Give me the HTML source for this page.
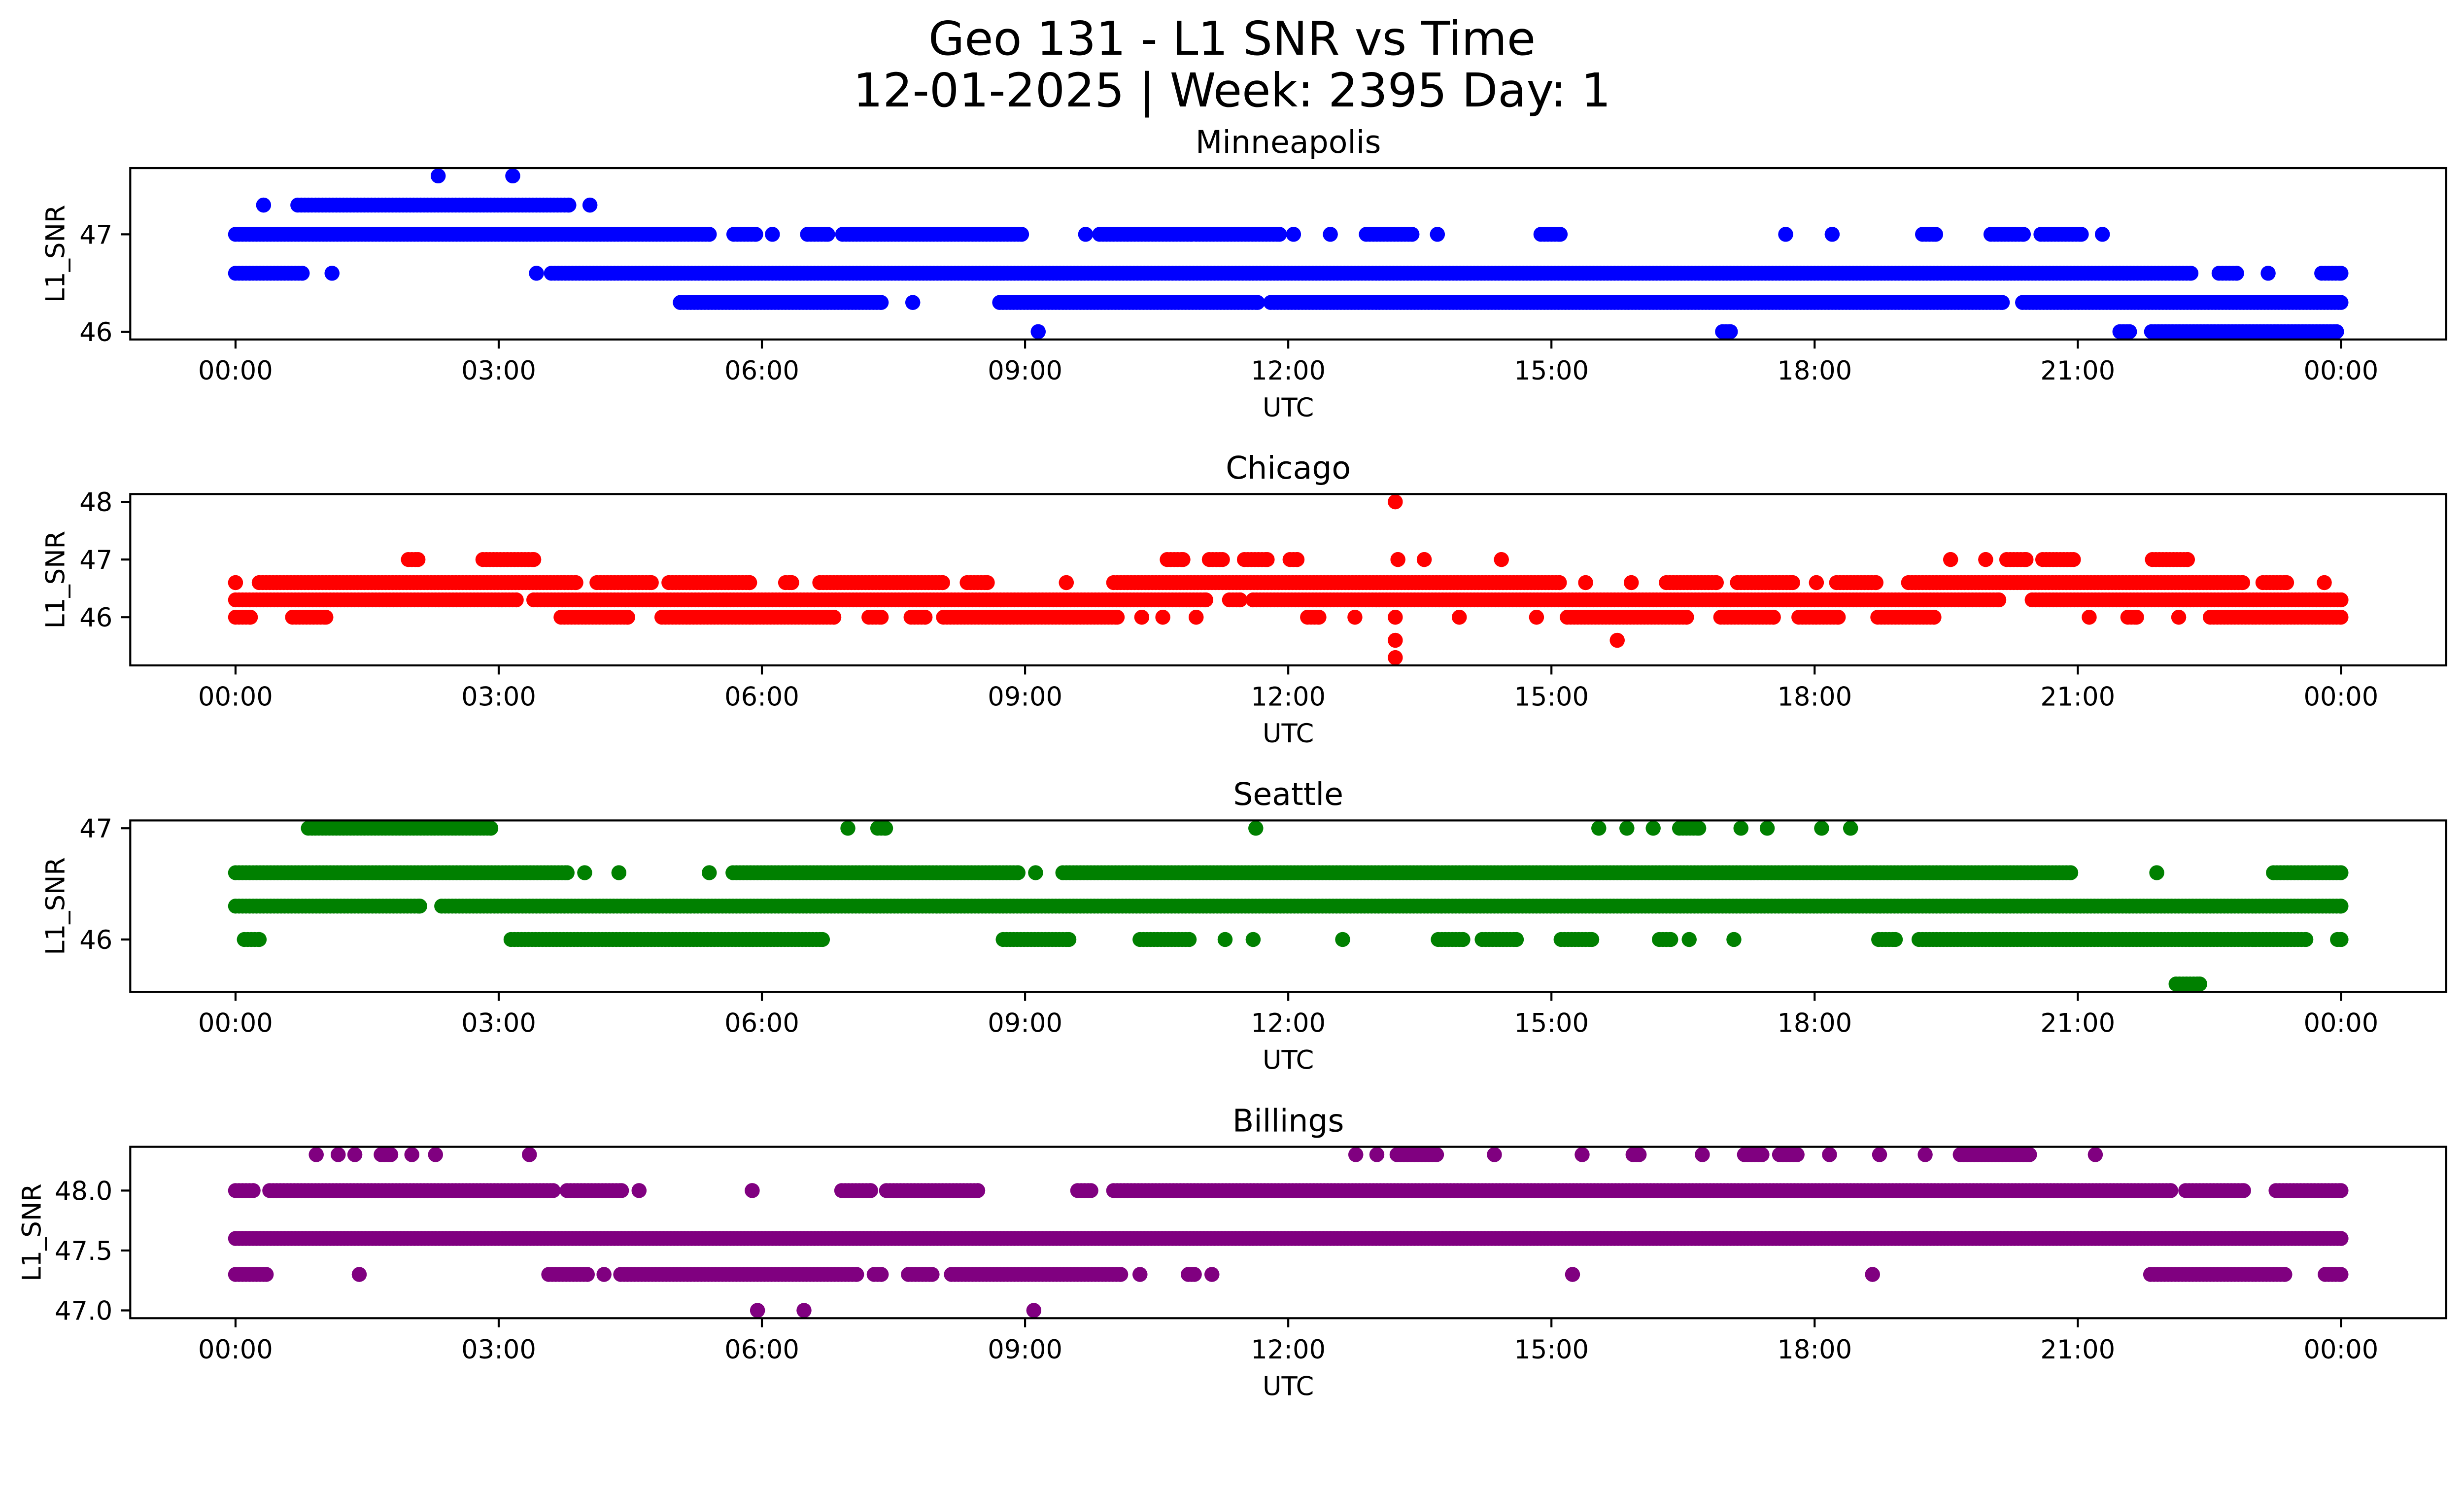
<!DOCTYPE html>
<html><head><meta charset="utf-8"><style>
html,body{margin:0;padding:0;background:#fff;overflow:hidden}
svg{display:block;font-family:"DejaVu Sans","Liberation Sans",sans-serif;width:100vw;height:calc(100vw * 3033 / 5278)}
</style></head><body>
<svg id="fig" viewBox="0 0 5278 3033" preserveAspectRatio="xMinYMin meet" xmlns="http://www.w3.org/2000/svg">
<rect width="5278" height="3033" fill="#fff"/>
<text x="2639" y="117" font-size="100" text-anchor="middle">Geo 131 - L1 SNR vs Time</text>
<text x="2639" y="228" font-size="100" text-anchor="middle">12-01-2025 | Week: 2395 Day: 1</text>
</svg>
<script>
// x tick data
const xTickHours = [0,3,6,9,12,15,18,21,24];
const xTickLabels = ["00:00","03:00","06:00","09:00","12:00","15:00","18:00","21:00","00:00"];
const panelNames = ["Minneapolis","Chicago","Seattle","Billings"];
const panelColors = ["#0000ff","#ff0000","#008000","#800080"];
// y tick values/labels per panel
const minneapolisTicks = [46,47];
const minneapolisTickLabels = ["46","47"];
const chicagoTicks = [46,47,48];
const chicagoTickLabels = ["46","47","48"];
const seattleTicks = [46,47];
const seattleTickLabels = ["46","47"];
const billingsTicks = [47.0,47.5,48.0];
const billingsTickLabels = ["47.0","47.5","48.0"];
// data: per SNR level, list of [startHour, endHour] observed ranges
const minneapolisLevels = [47.6,47.3,47.0,46.6,46.3,46.0];
const minneapolisRanges = [
 [[2.31,2.31],[3.16,3.16]],
 [[0.32,0.32],[0.71,3.8],[4.04,4.04]],
 [[0,5.4],[5.68,5.93],[6.12,6.12],[6.52,6.75],[6.92,8.96],[9.69,9.69],[9.85,10.9],[10.95,11.9],[12.06,12.06],[12.48,12.48],[12.89,13.41],[13.7,13.7],[14.88,15.1],[17.67,17.67],[18.2,18.2],[19.23,19.38],[20.01,20.38],[20.58,21.04],[21.28,21.28]],
 [[0,0.76],[1.1,1.1],[3.43,3.43],[3.6,22.29],[22.61,22.81],[23.17,23.17],[23.78,24]],
 [[5.07,7.36],[7.72,7.72],[8.71,11.65],[11.8,20.14],[20.37,24]],
 [[9.15,9.15],[16.95,17.04],[21.48,21.59],[21.84,23.95]]
];
const chicagoLevels = [48.0,47.0,46.6,46.3,46.0,45.6,45.3];
const chicagoRanges = [
 [[13.22,13.22]],
 [[1.97,2.08],[2.82,3.4],[10.62,10.8],[11.1,11.25],[11.5,11.76],[12.02,12.1],[13.25,13.25],[13.55,13.55],[14.43,14.43],[19.55,19.55],[19.95,19.95],[20.19,20.41],[20.6,20.95],[21.85,22.25]],
 [[0,0],[0.27,3.88],[4.12,4.74],[4.94,5.86],[6.27,6.34],[6.66,8.06],[8.34,8.57],[9.47,9.47],[10.01,15.09],[15.39,15.39],[15.91,15.91],[16.31,16.88],[17.12,17.75],[18.02,18.02],[18.25,18.7],[19.07,22.88],[23.11,23.38],[23.81,23.81]],
 [[0,3.2],[3.4,11.06],[11.33,11.45],[11.6,20.1],[20.48,24]],
 [[0,0.17],[0.65,1.03],[3.71,4.47],[4.86,6.82],[7.22,7.36],[7.7,7.86],[8.07,10.05],[10.33,10.33],[10.57,10.57],[10.95,10.95],[12.22,12.35],[12.76,12.76],[13.22,13.22],[13.95,13.95],[14.83,14.83],[15.18,16.54],[16.93,17.53],[17.82,18.27],[18.72,19.36],[21.13,21.13],[21.57,21.67],[22.15,22.15],[22.51,24]],
 [[13.22,13.22],[15.75,15.75]],
 [[13.22,13.22]]
];
const seattleLevels = [47.0,46.6,46.3,46.0,45.6];
const seattleRanges = [
 [[0.83,2.91],[6.98,6.98],[7.32,7.41],[11.63,11.63],[15.54,15.54],[15.86,15.86],[16.16,16.16],[16.46,16.68],[17.16,17.16],[17.46,17.46],[18.08,18.08],[18.41,18.41]],
 [[0,3.78],[3.98,3.98],[4.37,4.37],[5.4,5.4],[5.67,8.92],[9.12,9.12],[9.43,20.92],[21.9,21.9],[23.23,24]],
 [[0,2.1],[2.35,24]],
 [[0.1,0.27],[3.14,6.69],[8.75,9.5],[10.31,10.87],[11.28,11.28],[11.6,11.6],[12.62,12.62],[13.71,13.99],[14.21,14.6],[15.11,15.46],[16.23,16.36],[16.57,16.57],[17.08,17.08],[18.73,18.92],[19.19,23.6],[23.96,24]],
 [[22.12,22.39]]
];
const billingsLevels = [48.3,48.0,47.6,47.3,47.0];
const billingsRanges = [
 [[0.92,0.92],[1.17,1.17],[1.36,1.36],[1.66,1.77],[2.01,2.01],[2.28,2.28],[3.35,3.35],[12.77,12.77],[13.01,13.01],[13.24,13.69],[14.35,14.35],[15.35,15.35],[15.93,16.0],[16.72,16.72],[17.2,17.4],[17.6,17.8],[18.17,18.17],[18.74,18.74],[19.26,19.26],[19.66,20.45],[21.2,21.2]],
 [[0,0.2],[0.39,3.62],[3.78,4.4],[4.6,4.6],[5.89,5.89],[6.91,7.24],[7.42,8.46],[9.6,9.75],[10.01,22.06],[22.23,22.89],[23.26,24]],
 [[0,24]],
 [[0,0.35],[1.41,1.41],[3.57,4.01],[4.2,4.2],[4.39,7.08],[7.28,7.36],[7.67,7.94],[8.16,10.09],[10.31,10.31],[10.86,10.93],[11.13,11.13],[15.24,15.24],[18.66,18.66],[21.83,23.36],[23.82,24]],
 [[5.95,5.95],[6.48,6.48],[9.1,9.1]]
];

const NS = "http://www.w3.org/2000/svg";
const svg = document.getElementById("fig");
const AX_L = 279, AX_R = 5240, AX_H = 367;
const panelTops = [360, 1058, 1757, 2456];
const yLabelX = [118, 118, 118, 67];
const panels = [
 {levels: minneapolisLevels, ranges: minneapolisRanges, ticks: minneapolisTicks, labels: minneapolisTickLabels},
 {levels: chicagoLevels, ranges: chicagoRanges, ticks: chicagoTicks, labels: chicagoTickLabels},
 {levels: seattleLevels, ranges: seattleRanges, ticks: seattleTicks, labels: seattleTickLabels},
 {levels: billingsLevels, ranges: billingsRanges, ticks: billingsTicks, labels: billingsTickLabels}
];
function mk(tag, attrs, parent) {
  const e = document.createElementNS(NS, tag);
  for (const k in attrs) e.setAttribute(k, attrs[k]);
  (parent || svg).appendChild(e);
  return e;
}
const xMin = -1.2, xMax = 25.2;
function xScale(h) { return AX_L + (h - xMin) / (xMax - xMin) * (AX_R - AX_L); }

panels.forEach((p, i) => {
  const top = panelTops[i], bot = top + AX_H;
  const dMin = Math.min(...p.levels), dMax = Math.max(...p.levels);
  const m = (dMax - dMin) * 0.05;
  const yMin = dMin - m, yMax = dMax + m;
  const yScale = v => bot - (v - yMin) / (yMax - yMin) * AX_H;
  const g = mk("g", {});
  
  
  const cp = mk("clipPath", {id: "clip" + i}, g);
  mk("rect", {x: AX_L, y: top, width: AX_R - AX_L, height: AX_H}, cp);
  const pts = mk("g", {fill: panelColors[i], "clip-path": "url(#clip" + i + ")"}, g);
  
  
  p.levels.forEach((lv, li) => {
    const cy = yScale(lv);
    p.ranges[li].forEach(r => {
      for (let h = r[0]; h <= r[1] + 1e-9; h += 0.04) {
        mk("circle", {cx: xScale(h).toFixed(1), cy: cy.toFixed(1), r: 16}, pts);
      }
      mk("circle", {cx: xScale(r[1]).toFixed(1), cy: cy.toFixed(1), r: 16}, pts);
    });
  });
  const fr = mk("rect", {x: AX_L, y: top, width: AX_R - AX_L, height: AX_H, fill: "none", stroke: "#000", "stroke-width": 4.4}, g);
  
  
  xTickHours.forEach((h, k) => {
    const x = xScale(h);
    mk("line", {x1: x, x2: x, y1: bot, y2: bot + 19.5, stroke: "#000", "stroke-width": 4.4}, g);
    const t = mk("text", {x: x, y: bot + 86, "font-size": 55.6, "text-anchor": "middle"}, g);
    
    
    t.textContent = xTickLabels[k];
  });
  p.ticks.forEach((v, k) => {
    const y = yScale(v);
    mk("line", {x1: AX_L - 19.5, x2: AX_L, y1: y, y2: y, stroke: "#000", "stroke-width": 4.4}, g);
    const t = mk("text", {x: AX_L - 38, y: y + 20, "font-size": 55.6, "text-anchor": "end"}, g);
    
    
    t.textContent = p.labels[k];
  });
  const ti = mk("text", {x: (AX_L + AX_R) / 2, y: top - 33, "font-size": 66.7, "text-anchor": "middle"}, g);
  
  
  ti.textContent = panelNames[i];
  const xl = mk("text", {x: (AX_L + AX_R) / 2, y: bot + 165, "font-size": 55.6, "text-anchor": "middle"}, g);
  
  
  xl.textContent = "UTC";
  const cy = top + AX_H / 2;
  const yl = mk("text", {x: 0, y: 0, "font-size": 55.6, "text-anchor": "middle", transform: "translate(" + (yLabelX[i] + 20) + "," + cy + ") rotate(-90)"}, g);
  
  
  yl.textContent = "L1_SNR";
});
</script>
</body></html>
